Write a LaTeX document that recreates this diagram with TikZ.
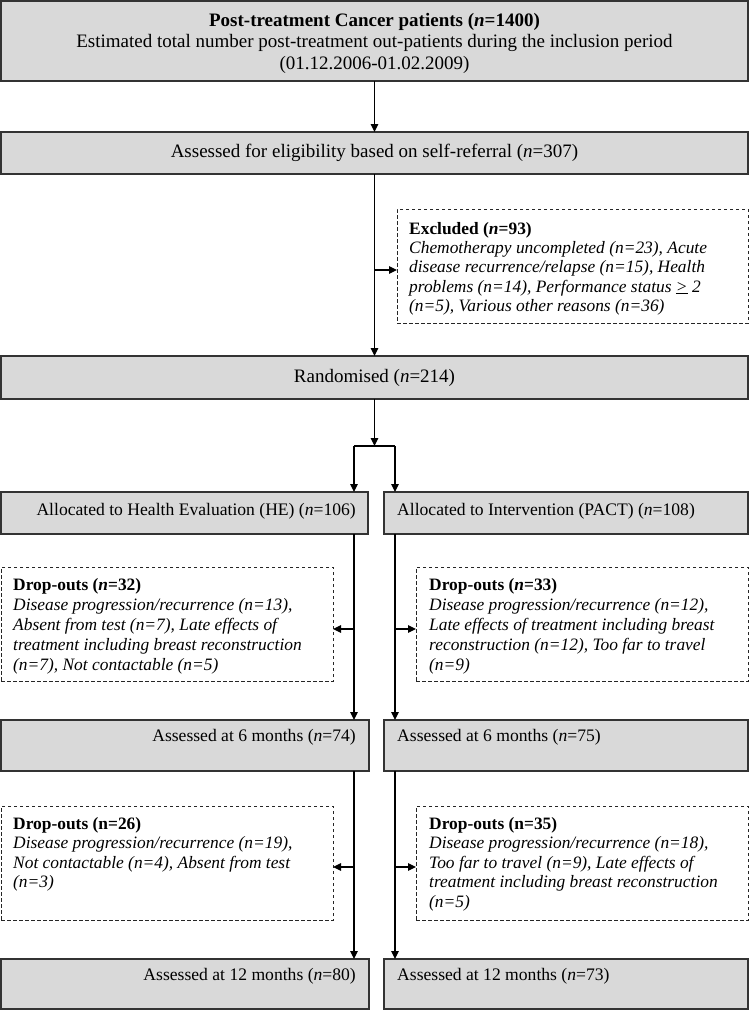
\documentclass[tikz,border=0pt]{standalone}
\usepackage{fontspec}
\setmainfont{Liberation Serif}
\usetikzlibrary{arrows.meta}
\definecolor{boxgray}{RGB}{217,217,217}
\begin{document}
\begin{tikzpicture}[x=1pt,y=-1pt,
  graybox/.style={draw=black!80, line width=1.1pt, fill=boxgray, inner sep=0pt, outer sep=0pt, anchor=north west, font=\fontsize{19}{21.5}\selectfont},
  dashbox/.style={draw=black!85, line width=0.8pt, dash pattern=on 3.5pt off 2.5pt, inner sep=0pt, outer sep=0pt, anchor=north west},
  conn/.style={line width=1.2pt, black},
  arr/.style={conn, -{Triangle[length=8pt,width=7.5pt]}},
  maintext/.style={font=\fontsize{19}{21.5}\selectfont, inner sep=0pt},
  armtext/.style={font=\fontsize{17.6}{20}\selectfont, inner sep=0pt},
  smalltext/.style={font=\fontsize{17.4}{20}\selectfont, inner sep=0pt, align=left, anchor=north west}
]
\useasboundingbox (0,0) rectangle (750,1012);

% boxes
\node[graybox, minimum width=747pt, minimum height=80pt] (top) at (1,1) {};
\node[graybox, minimum width=747pt, minimum height=42pt] (elig) at (1,132) {Assessed for eligibility based on self-referral (\textit{n}=307)};
\node[dashbox, minimum width=351pt, minimum height=114pt] (excl) at (397,209) {};
\node[graybox, minimum width=747pt, minimum height=43pt] (rand) at (1,356) {Randomised (\textit{n}=214)};
\node[graybox, minimum width=367pt, minimum height=42pt] (he) at (1,492) {};
\node[graybox, minimum width=364pt, minimum height=42pt] (pact) at (384,492) {};
\node[dashbox, minimum width=332pt, minimum height=114pt] (d1l) at (1,567) {};
\node[dashbox, minimum width=332pt, minimum height=114pt] (d1r) at (416,567) {};
\node[graybox, minimum width=368pt, minimum height=51pt] (he6) at (1,720) {};
\node[graybox, minimum width=364pt, minimum height=51pt] (pact6) at (384,720) {};
\node[dashbox, minimum width=332pt, minimum height=114pt] (d2l) at (1,806) {};
\node[dashbox, minimum width=332pt, minimum height=114pt] (d2r) at (416,806) {};
\node[graybox, minimum width=368pt, minimum height=50pt] (he12) at (1,959) {};
\node[graybox, minimum width=364pt, minimum height=50pt] (pact12) at (384,959) {};

% texts
\node[maintext, align=center] (toptext) at ([yshift=-2pt]top.center) {\textbf{Post-treatment Cancer patients (\textit{n}=1400)}\\Estimated total number post-treatment out-patients during the inclusion period\\(01.12.2006-01.02.2009)};
\node[smalltext, font=\fontsize{17.4}{19.3}\selectfont] (excltext) at ([xshift=12pt,yshift=-13pt]excl.north west) {\textbf{Excluded (\textit{n}=93)}\\
\textit{Chemotherapy uncompleted (n=23), Acute}\\
\textit{disease recurrence/relapse (n=15), Health}\\
\textit{problems (n=14), Performance status \underline{>} 2}\\
\textit{(n=5), Various other reasons (n=36)}};
\node[armtext, anchor=east] (hetext) at ([xshift=-12pt,yshift=2pt]he.east) {Allocated to Health Evaluation (HE) (\textit{n}=106)};
\node[armtext, anchor=west] (pacttext) at ([xshift=13pt,yshift=2pt]pact.west) {Allocated to Intervention (PACT) (\textit{n}=108)};
\node[smalltext] (d1ltext) at ([xshift=12pt,yshift=-11pt]d1l.north west) {\textbf{Drop-outs (\textit{n}=32)}\\
\textit{Disease progression/recurrence (n=13),}\\
\textit{Absent from test (n=7), Late effects of}\\
\textit{treatment including breast reconstruction}\\
\textit{(n=7), Not contactable (n=5)}};
\node[smalltext] (d1rtext) at ([xshift=13pt,yshift=-11pt]d1r.north west) {\textbf{Drop-outs (\textit{n}=33)}\\
\textit{Disease progression/recurrence (n=12),}\\
\textit{Late effects of treatment including breast}\\
\textit{reconstruction (n=12), Too far to travel}\\
\textit{(n=9)}};
\node[armtext, anchor=east] (he6text) at ([xshift=-13pt,yshift=8pt]he6.east) {Assessed at 6 months (\textit{n}=74)};
\node[armtext, anchor=west] (pact6text) at ([xshift=13pt,yshift=8pt]pact6.west) {Assessed at 6 months (\textit{n}=75)};
\node[smalltext, font=\fontsize{17.4}{19.5}\selectfont] (d2ltext) at ([xshift=12pt,yshift=-11pt]d2l.north west) {\textbf{Drop-outs (n=26)}\\
\textit{Disease progression/recurrence (n=19),}\\
\textit{Not contactable (n=4), Absent from test}\\
\textit{(n=3)}};
\node[smalltext, font=\fontsize{17.4}{19.5}\selectfont] (d2rtext) at ([xshift=13pt,yshift=-11pt]d2r.north west) {\textbf{Drop-outs (n=35)}\\
\textit{Disease progression/recurrence (n=18),}\\
\textit{Too far to travel (n=9), Late effects of}\\
\textit{treatment including breast reconstruction}\\
\textit{(n=5)}};
\node[armtext, anchor=east] (he12text) at ([xshift=-13pt,yshift=8pt]he12.east) {Assessed at 12 months (\textit{n}=80)};
\node[armtext, anchor=west] (pact12text) at ([xshift=13pt,yshift=8pt]pact12.west) {Assessed at 12 months (\textit{n}=73)};

% connectors
\draw[arr] (top.south) -- (elig.north);
\draw[arr] (elig.south) -- (rand.north);
\coordinate (exb) at (374.5,270);
\draw[arr] (exb) -- (exb -| excl.west);
\coordinate (split) at (374.5,446);
\draw[arr] (rand.south) -- (split);
\coordinate (sl) at (354,446);
\coordinate (sr) at (395,446);
\draw[conn] (sl) -- (sr);
\draw[arr] (sl) -- (sl |- he.north);
\draw[arr] (sr) -- (sr |- pact.north);
\draw[arr] (sl |- he.south) -- (sl |- he6.north);
\draw[arr] (sr |- pact.south) -- (sr |- pact6.north);
\coordinate (b1) at (354,629);
\coordinate (b2) at (395,629);
\draw[arr] (b1) -- (b1 -| d1l.east);
\draw[arr] (b2) -- (b2 -| d1r.west);
\draw[arr] (sl |- he6.south) -- (sl |- he12.north);
\draw[arr] (sr |- pact6.south) -- (sr |- pact12.north);
\coordinate (b3) at (354,867);
\coordinate (b4) at (395,867);
\draw[arr] (b3) -- (b3 -| d2l.east);
\draw[arr] (b4) -- (b4 -| d2r.west);
\end{tikzpicture}
\end{document}
